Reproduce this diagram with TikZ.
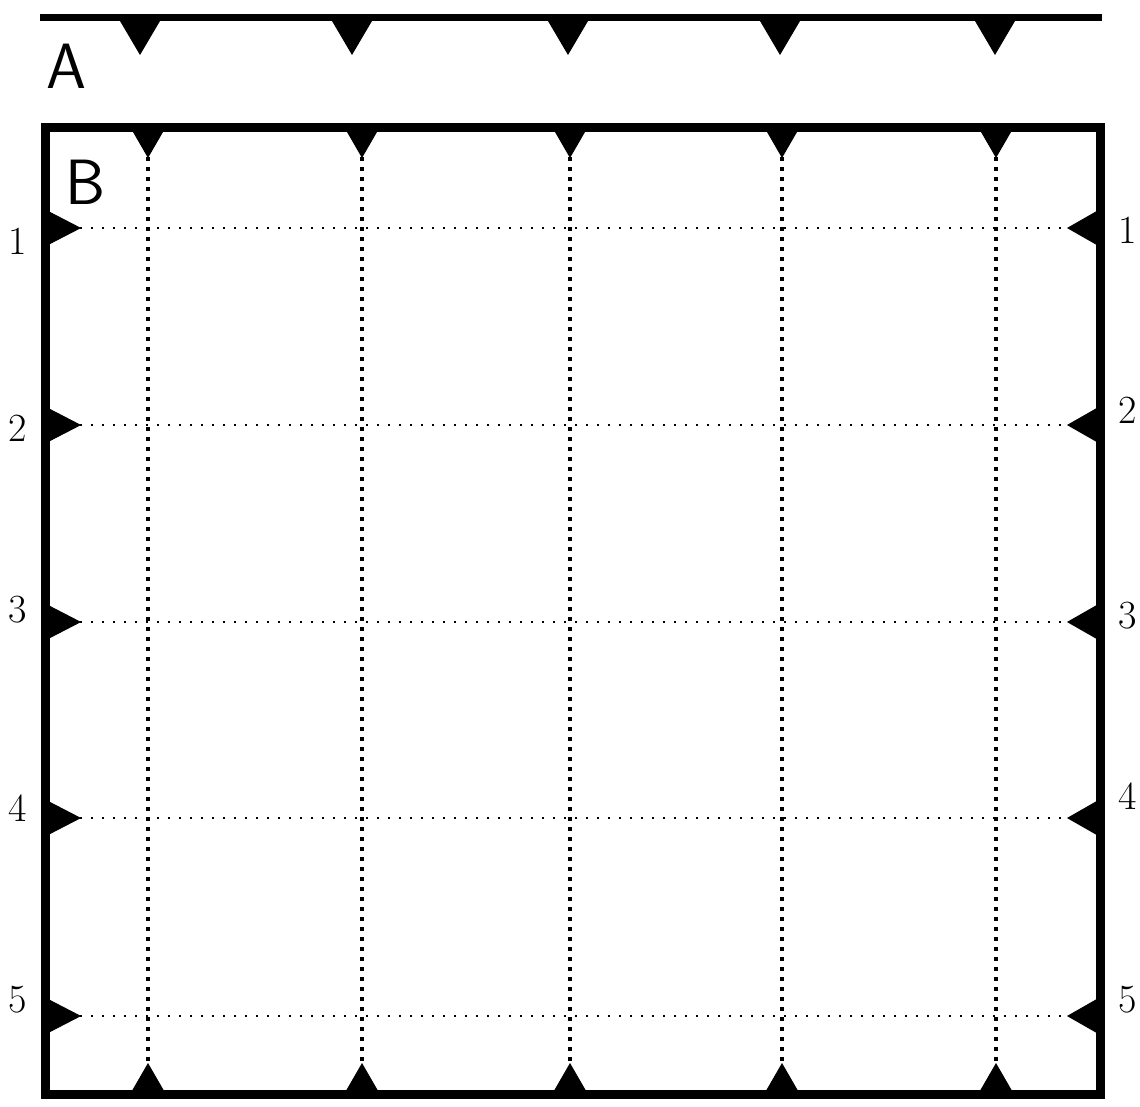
\documentclass[tikz,border=0pt]{standalone}
\usepackage{tikz}

\tikzset{
  rail/.style={line width=7pt},
  frame/.style={line width=9pt},
  marker/.style={fill=black, draw=black, line width=1pt},
  hline/.style={line width=2pt, dash pattern=on 2pt off 9pt},
  vline/.style={line width=3.5pt, dash pattern=on 4pt off 6pt},
  rowlabel/.style={font=\fontsize{40}{40}\selectfont, inner sep=0pt},
  panel/.style={font=\sffamily\fontsize{64}{64}\selectfont, inner sep=0pt}
}

\begin{document}
\begin{tikzpicture}[x=1pt, y=-1pt]
  \useasboundingbox (0,0) rectangle (1140,1106);
  % Strip A (rail with markers)
  \draw[rail] (40,17) -- (1102,17);
  \node[panel] (labA) at (66,66) {A};
  \foreach \x in {140,352,568,780,995}
    \fill[marker] (\x-20,20) -- (\x+20,20) -- (\x,54) -- cycle;
  % Frame B
  \draw[frame] (45,127) rectangle (1100,1094);
  \node[panel] (labB) at (86,182) {B};
  % Column markers (top and bottom) and their lines
  \foreach \x [count=\i] in {148,362,570,782,996} {
    \fill[marker] (\x-15,131) -- (\x+15,131) -- (\x,157) -- cycle;
    \fill[marker] (\x-15,1090) -- (\x+15,1090) -- (\x,1064) -- cycle;
    \coordinate (top\i) at (\x,157);
    \coordinate (bot\i) at (\x,1064);
    \draw[vline] (top\i) -- (bot\i);
  }
  % Row markers (left and right), lines and numbers
  \foreach \y/\ly/\ry [count=\i] in {228/241/230, 425/428/410, 622/610/616, 818/808/796, 1016/1000/1000} {
    \fill[marker] (49,\y-16) -- (49,\y+16) -- (80,\y) -- cycle;
    \fill[marker] (1096,\y-16) -- (1096,\y+16) -- (1068,\y) -- cycle;
    \coordinate (left\i) at (80,\y);
    \coordinate (right\i) at (1068,\y);
    \draw[hline] (left\i) -- (right\i);
    \node[rowlabel] (numL\i) at (18,\ly) {\i};
    \node[rowlabel] (numR\i) at (1128,\ry) {\i};
  }
\end{tikzpicture}
\end{document}
